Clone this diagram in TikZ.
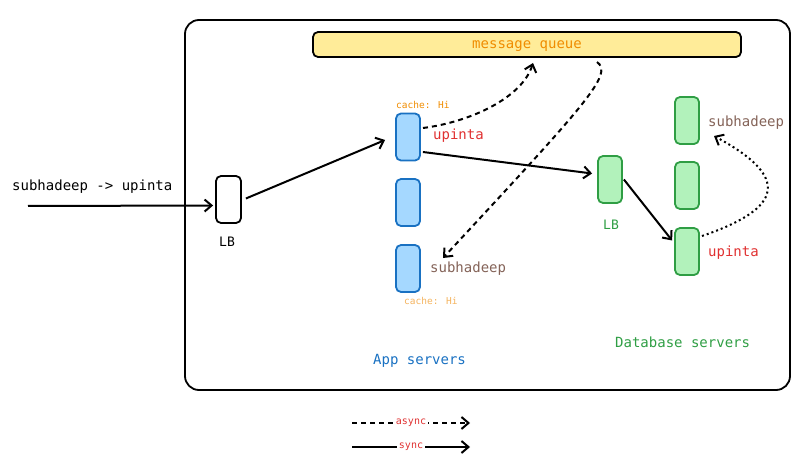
\documentclass[tikz,border=0pt]{standalone}
\usepackage{fontspec}
\setmainfont{DejaVu Sans Mono}
\usetikzlibrary{arrows.meta}
\definecolor{eblue}{HTML}{1971C2}
\definecolor{lblue}{HTML}{A5D8FF}
\definecolor{egreen}{HTML}{2F9E44}
\definecolor{lgreen}{HTML}{B2F2BB}
\definecolor{ered}{HTML}{E03131}
\definecolor{ebrown}{HTML}{846358}
\definecolor{eorange}{HTML}{F08C00}
\definecolor{lorange}{HTML}{F4B35E}
\definecolor{eyellow}{HTML}{FFEC99}
\tikzset{
  srv/.style={draw, line width=1.8pt, rounded corners=5pt, minimum width=24pt, minimum height=47pt, inner sep=0pt},
  appsrv/.style={srv, draw=eblue, fill=lblue},
  dbsrv/.style={srv, draw=egreen, fill=lgreen},
  lbl/.style={font=\fontsize{14}{15}\selectfont, inner sep=0pt, anchor=west},
  small/.style={font=\fontsize{9.5}{10}\selectfont, inner sep=0pt, anchor=west},
  arr/.style={line width=2pt, -{Straight Barb[length=7pt,width=12pt,line width=2pt]}},
  dsh/.style={dash pattern=on 5pt off 4pt},
  leg/.style={fill=white, inner sep=1.5pt, text=ered, font=\fontsize{10}{11}\selectfont},
}
\begin{document}
\begin{tikzpicture}[x=1pt,y=-1pt]
\useasboundingbox (0,0) rectangle (800,457);
% outer frame
\node[draw, line width=1.8pt, rounded corners=14pt, minimum width=605pt, minimum height=370pt, inner sep=0pt] (frame) at (487.5,205) {};
% message queue
\node[draw, line width=1.8pt, fill=eyellow, rounded corners=5pt, minimum width=428pt, minimum height=25pt, inner sep=0pt,
      text depth=0pt, text=eorange, font=\fontsize{14}{15}\selectfont] (mq) at (527,44.5) {message queue};
% input
\node[lbl] (inlbl) at (12,187) {subhadeep -> upinta};
\coordinate (instart) at (28,206);
\node[srv, draw=black, fill=white, minimum width=25pt] (lb) at (228.5,199.5) {};
\node[font=\fontsize{13}{14}\selectfont, inner sep=0pt] (lblb) at (227,242) {LB};
% app servers
\node[appsrv] (app1) at (408,137) {};
\node[appsrv] (app2) at (408,202.5) {};
\node[appsrv] (app3) at (408,268.5) {};
\node[small, text=eorange] (c1) at (396,105) {cache: Hi};
\node[small, text=lorange] (c3) at (404,301) {cache: Hi};
\node[lbl, text=ered] (up1) at (433,136) {upinta};
\node[lbl, text=ebrown] (sub3) at (430,269) {subhadeep};
\node[lbl, text=eblue] (appt) at (373,361) {App servers};
% db side
\node[dbsrv] (dlb) at (610,179.5) {};
\node[font=\fontsize{13}{14}\selectfont, inner sep=0pt, text=egreen] (dlbt) at (611,225) {LB};
\node[dbsrv] (db1) at (687,120.5) {};
\node[dbsrv] (db2) at (687,185.5) {};
\node[dbsrv] (db3) at (687,251.5) {};
\node[lbl, text=ebrown] (sub1) at (708,123) {subhadeep};
\node[lbl, text=ered] (up3) at (708,253) {upinta};
\node[lbl, text=egreen] (dbt) at (615,342) {Database servers};
% connectors
\draw[arr] (instart) -- ([xshift=-2pt,yshift=-6pt]lb.west);
\draw[arr] ([xshift=4pt,yshift=1pt]lb.east) -- ([xshift=-10pt,yshift=-3pt]app1.west);
\coordinate (a1e) at (423,128);
\coordinate (mqin) at (533,63);
\draw[arr, dsh] (a1e) .. controls (470,122) and (522,98) .. (mqin);
\coordinate (mqout) at (597,62);
\coordinate (a3in) at (443,258);
\draw[arr, dsh] (mqout) .. controls (614,74) and (585,105) .. (a3in);
\draw[arr] ([xshift=2pt,yshift=-15pt]app1.east) -- ([xshift=-5pt,yshift=6pt]dlb.west);
\draw[arr] ([xshift=1pt]dlb.east) -- ([xshift=-2pt,yshift=11pt]db3.west);
\coordinate (d3e) at (702,236);
\coordinate (d1in) at (714,136);
\draw[arr, dash pattern=on 2pt off 3pt] (d3e) .. controls (772,212) and (800,182) .. (d1in);
% legend
\coordinate (la1) at (352,423);
\coordinate (la2) at (470,423);
\coordinate (ls1) at (352,447);
\coordinate (ls2) at (470,447);
\draw[arr, dsh] (la1) -- node[leg] (async) {async} (la2);
\draw[arr] (ls1) -- node[leg] (sync) {sync} (ls2);
\end{tikzpicture}
\end{document}
